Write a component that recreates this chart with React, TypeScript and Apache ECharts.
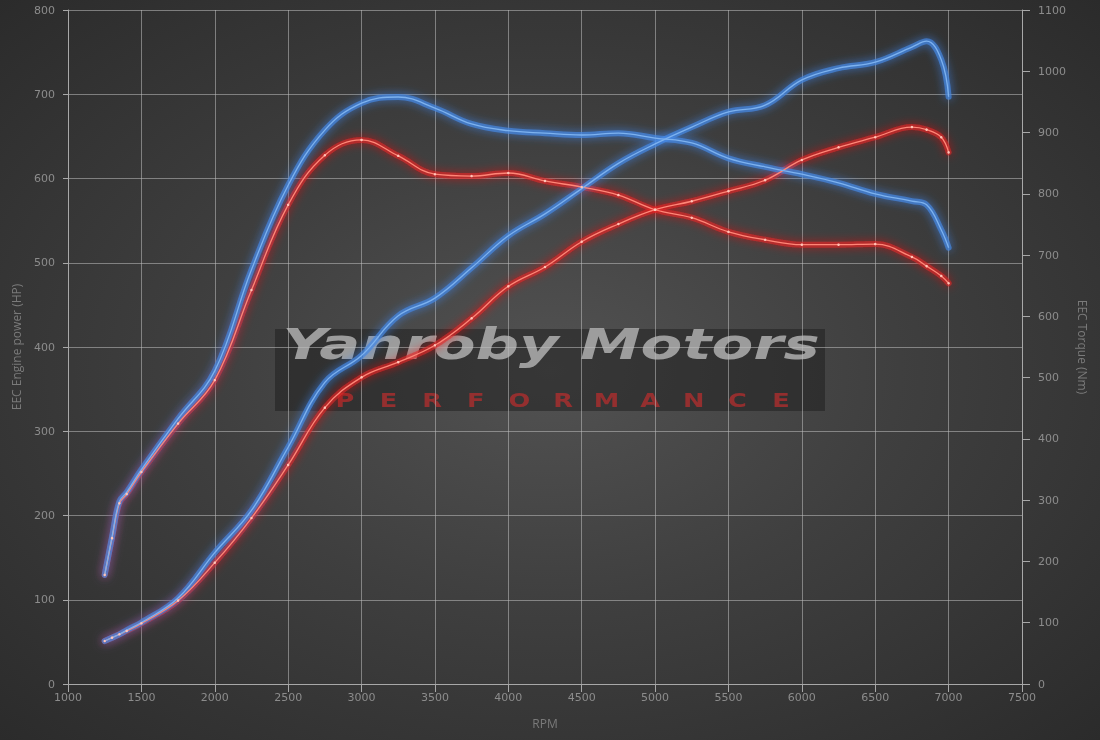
import React, { useEffect, useRef } from "react";
import * as echarts from "echarts";

// Engine speed (RPM) sample points
const rpm = [1250, 1300, 1350, 1400, 1500, 1750, 2000, 2250, 2500, 2750, 3000, 3250, 3500, 3750, 4000, 4250, 4500, 4750, 5000, 5250, 5500, 5750, 6000, 6250, 6500, 6750, 6850, 6950, 7000];

// Power (HP) - left axis
const tunedPower = [51, 55, 59, 64, 73, 102, 156, 206, 281, 358, 390, 437, 458, 494, 532, 558, 588, 618, 641, 661, 679, 687, 717, 731, 738, 756, 763, 741, 697];
const stockPower = [51, 55, 59, 63, 72, 99, 144, 197, 260, 328, 364, 382, 402, 434, 472, 495, 525, 546, 563, 573, 585, 598, 622, 637, 649, 661, 658, 649, 631];

// Torque (Nm) - right axis
const tunedTorque = [178, 240, 298, 313, 350, 433, 511, 676, 814, 904, 948, 958, 940, 914, 903, 899, 896, 899, 891, 883, 858, 844, 832, 818, 800, 788, 782, 741, 712];
const stockTorque = [178, 238, 295, 310, 346, 425, 496, 643, 782, 863, 888, 862, 832, 829, 834, 821, 811, 798, 774, 761, 738, 725, 717, 717, 718, 697, 682, 666, 654];

const perfLetters = ["P", "E", "R", "F", "O", "R", "M", "A", "N", "C", "E"];

const pairs = (vals: number[]) => rpm.map((r, i) => [r, vals[i]]);

const glow = (name: string, vals: number[], yIdx: number, color: string, shadow: string) => ({
  name,
  type: "line",
  yAxisIndex: yIdx,
  data: pairs(vals),
  smooth: 0.4,
  showSymbol: false,
  silent: true,
  lineStyle: { width: 6, color, shadowBlur: 10, shadowColor: shadow, cap: "round", join: "round" },
  z: 2,
});

const core = (name: string, vals: number[], yIdx: number, color: string, dot: boolean) => ({
  name: name + " core",
  type: "line",
  yAxisIndex: yIdx,
  data: pairs(vals),
  smooth: 0.4,
  showSymbol: dot,
  symbol: "circle",
  symbolSize: 2.5,
  itemStyle: { color: dot ? "#ffc4b8" : color, borderWidth: 0 },
  silent: true,
  lineStyle: { width: 1.3, color },
  z: 3,
});

export default function App() {
  const ref = useRef<HTMLDivElement>(null);
  useEffect(() => {
    if (!ref.current) return;
    const chart = echarts.init(ref.current, null, { renderer: "svg" });
    const axisLabel = {
      color: "#8c8c8c",
      fontSize: 11,
      fontFamily: "DejaVu Sans",
      formatter: (v: number) => String(v),
    };
    const nameStyle = { color: "#7a7a7a", fontSize: 12, fontFamily: "Open Sans" };
    const axisLine = { show: true, lineStyle: { color: "#a8a8a8", width: 1 } };
    const split = { show: true, lineStyle: { color: "rgba(190,190,190,0.55)", width: 1 } };
    chart.setOption({
      animation: false,
      backgroundColor: "transparent",
      grid: { left: 68, right: 78, top: 10, bottom: 56, containLabel: false },
      xAxis: {
        type: "value",
        min: 1000,
        max: 7500,
        interval: 500,
        name: "RPM",
        nameLocation: "middle",
        nameGap: 33,
        nameTextStyle: nameStyle,
        axisLine,
        axisTick: { show: true, length: 8, lineStyle: { color: "#a8a8a8" } },
        axisLabel: { ...axisLabel, margin: 8 },
        splitLine: split,
      },
      yAxis: [
        {
          type: "value",
          min: 0,
          max: 800,
          interval: 100,
          position: "left",
          name: "EEC Engine power (HP)",
          nameLocation: "middle",
          nameGap: 46,
          nameTextStyle: nameStyle,
          axisLine,
          axisTick: { show: true, length: 5, lineStyle: { color: "#a8a8a8" } },
          axisLabel: { ...axisLabel, margin: 13 },
          splitLine: split,
        },
        {
          type: "value",
          min: 0,
          max: 1100,
          interval: 100,
          position: "right",
          name: "EEC Torque (Nm)",
          nameLocation: "middle",
          nameGap: 52,
          nameRotate: -90,
          nameTextStyle: nameStyle,
          axisLine,
          axisTick: { show: true, length: 8, lineStyle: { color: "#a8a8a8" } },
          axisLabel: { ...axisLabel, margin: 16 },
          splitLine: { show: false },
        },
      ],
      series: [
        glow("Stock power", stockPower, 0, "rgba(225,35,35,0.6)", "rgba(255,20,20,0.95)"),
        glow("Stock torque", stockTorque, 1, "rgba(225,35,35,0.6)", "rgba(255,20,20,0.95)"),
        glow("Tuned power", tunedPower, 0, "rgba(70,135,225,0.7)", "rgba(60,140,255,0.95)"),
        glow("Tuned torque", tunedTorque, 1, "rgba(70,135,225,0.7)", "rgba(60,140,255,0.95)"),
        core("Stock power", stockPower, 0, "#ff8677", true),
        core("Stock torque", stockTorque, 1, "#ff8677", true),
        core("Tuned power", tunedPower, 0, "#7db2ef", false),
        core("Tuned torque", tunedTorque, 1, "#7db2ef", false),
      ],
      graphic: [
        {
          type: "group",
          z: 100,
          silent: true,
          children: [
            {
              type: "rect",
              shape: { x: 275, y: 329, width: 550, height: 82 },
              style: { fill: "rgba(28,28,28,0.5)" },
            },
            {
              type: "text",
              x: 551,
              y: 344,
              scaleX: 1.45,
              style: {
                text: "Yanroby Motors",
                font: 'italic bold 42px "DejaVu Sans"',
                fill: "rgba(175,175,175,0.85)",
                textAlign: "center",
                textVerticalAlign: "middle",
              },
            },
            ...perfLetters.map((ch, i) => ({
              type: "text",
              x: 345 + i * 43.6,
              y: 400,
              scaleX: 1.35,
              style: {
                text: ch,
                font: 'bold 19px "DejaVu Sans"',
                fill: "rgba(190,45,45,0.7)",
                textAlign: "center",
                textVerticalAlign: "middle",
              },
            })),
          ],
        },
      ],
    });
    return () => chart.dispose();
  }, []);
  return (
    <div
      style={{
        position: "fixed",
        left: 0,
        top: 0,
        width: 1100,
        height: 740,
        background: "radial-gradient(ellipse at 50% 50%, #525252 0%, #3f3f3f 45%, #2b2b2b 100%)",
      }}
    >
      <div ref={ref} style={{ width: 1100, height: 740 }} />
    </div>
  );
}
